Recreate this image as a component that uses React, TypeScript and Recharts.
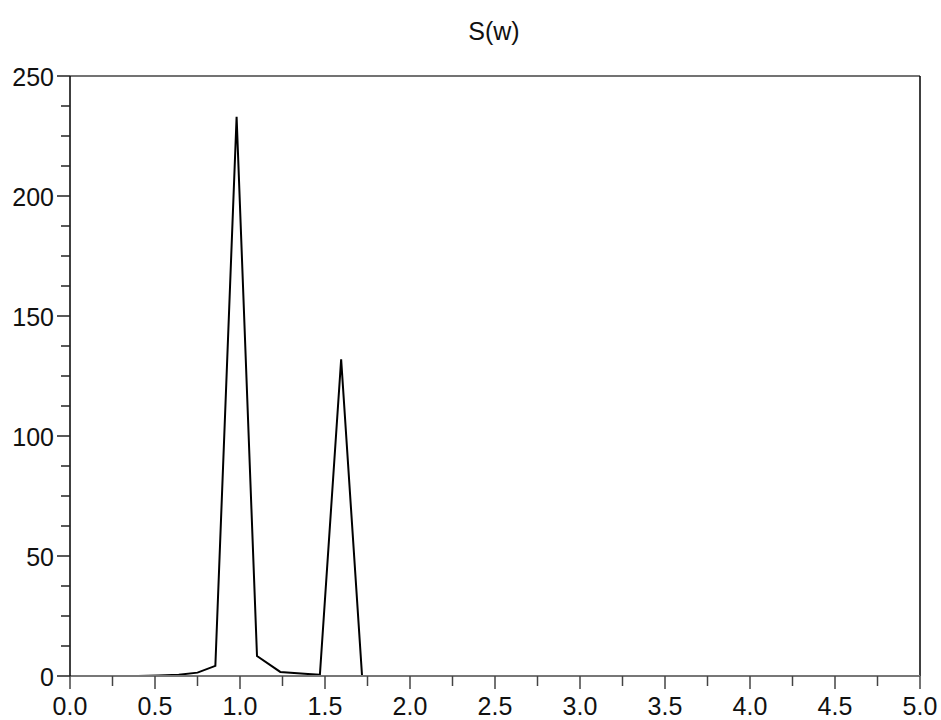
import { LineChart, Line, XAxis, YAxis, ReferenceLine } from 'recharts'

const freq = [0.4, 0.52, 0.64, 0.75, 0.855, 0.98, 1.1, 1.237, 1.4, 1.47, 1.595, 1.718]
const density = [0, 0.2, 0.5, 1.4, 4.2, 233, 8.3, 1.7, 0.8, 0.5, 132, 0]

const xTicks = [0, 0.25, 0.5, 0.75, 1, 1.25, 1.5, 1.75, 2, 2.25, 2.5, 2.75, 3, 3.25, 3.5, 3.75, 4, 4.25, 4.5, 4.75, 5]
const xMajor = [0, 0.5, 1, 1.5, 2, 2.5, 3, 3.5, 4, 4.5, 5]
const yTicks = [0, 12.5, 25, 37.5, 50, 62.5, 75, 87.5, 100, 112.5, 125, 137.5, 150, 162.5, 175, 187.5, 200, 212.5, 225, 237.5, 250]
const yMajor = [0, 50, 100, 150, 200, 250]

const data = freq.map((w, i) => ({ w, s: density[i] }))

const font = '"Liberation Sans", Arial, sans-serif'

function XTick(props: any) {
  const { x, y, payload } = props
  const major = xMajor.includes(payload.value)
  return (
    <g>
      <line x1={x} x2={x} y1={y} y2={y + (major ? 13 : 10)} stroke="#444" strokeWidth={1.5} />
      {major && (
        <text x={x} y={y + 30} textAnchor="middle" dominantBaseline="central" fontSize={25} fontFamily={font} fill="#111">
          {payload.value.toFixed(1)}
        </text>
      )}
    </g>
  )
}

function YTick(props: any) {
  const { x, y, payload } = props
  const major = yMajor.includes(payload.value)
  return (
    <g>
      <line x1={x - (major ? 13 : 9)} x2={x} y1={y} y2={y} stroke="#222" strokeWidth={1.5} />
      {major && (
        <text x={x - 16} y={y + 1} textAnchor="end" dominantBaseline="central" fontSize={25} fontFamily={font} fill="#111">
          {payload.value}
        </text>
      )}
    </g>
  )
}

export default function App() {
  return (
    <div style={{ position: 'absolute', left: 0, top: 0, width: 941, height: 720, background: '#fff' }}>
      <div
        style={{
          position: 'absolute',
          left: 394,
          width: 200,
          top: 16,
          textAlign: 'center',
          fontFamily: font,
          fontSize: 25,
          lineHeight: '30px',
          color: '#111',
        }}
      >
        S(w)
      </div>
      <LineChart width={941} height={720} data={data} margin={{ top: 76, right: 21, left: 0, bottom: 0 }}>
        <XAxis
          dataKey="w"
          type="number"
          domain={[0, 5]}
          ticks={xTicks}
          interval={0}
          height={44}
          tickSize={0}
          tickMargin={0}
          tickLine={false}
          tick={<XTick />}
          stroke="#777"
          strokeWidth={2}
          allowDataOverflow
        />
        <YAxis
          type="number"
          domain={[0, 250]}
          ticks={yTicks}
          interval={0}
          width={70}
          tickSize={0}
          tickMargin={0}
          tickLine={false}
          tick={<YTick />}
          stroke="#000"
          strokeWidth={1.5}
          allowDataOverflow
        />
        <ReferenceLine y={250} stroke="#444" strokeWidth={1.5} />
        <ReferenceLine x={5} stroke="#000" strokeWidth={1.5} />
        <Line type="linear" dataKey="s" stroke="#000" strokeWidth={2} dot={false} isAnimationActive={false} />
      </LineChart>
    </div>
  )
}
